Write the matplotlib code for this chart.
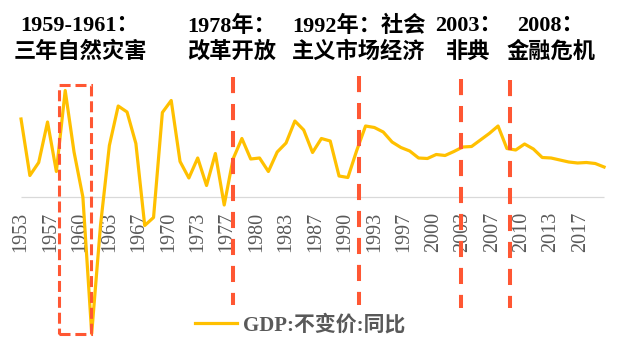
import numpy as np
import matplotlib
matplotlib.use("Agg")
import matplotlib.pyplot as plt
from matplotlib.patches import Rectangle

# 数据：GDP 不变价同比（%）
years = list(range(1953, 2020))
gdp = [15.6, 4.3, 6.9, 15.0, 5.1, 21.3, 9.0, 0.0, -27.3, -5.6,
       10.3, 18.2, 17.0, 10.7, -5.7, -4.1, 16.9, 19.3, 7.1, 3.8,
       7.8, 2.3, 8.7, -1.6, 7.6, 11.7, 7.6, 7.8, 5.1, 9.0,
       10.8, 15.2, 13.4, 8.9, 11.7, 11.2, 4.2, 3.9, 9.3, 14.2,
       13.9, 13.0, 11.0, 9.9, 9.2, 7.8, 7.7, 8.5, 8.3, 9.1,
       10.0, 10.1, 11.4, 12.7, 14.2, 9.7, 9.4, 10.6, 9.6, 7.9,
       7.8, 7.4, 7.0, 6.8, 6.9, 6.7, 6.0]
tick_labels = ["1953", "1957", "1960", "1963", "1967", "1970", "1973", "1977",
               "1980", "1983", "1987", "1990", "1993", "1997", "2000", "2003",
               "2007", "2010", "2013", "2017"]

# 事件标注
event_x = [1977, 1991.3, 2002.8, 2008.3]
annotations = [
    (["1959-1961：", "三年自然灾害"], 80, "center"),
    (["1978年：", "改革开放"], 187, "left"),
    (["1992年：社会", "主义市场经济"], 292, "left"),
    (["2003：", "非典"], 468, "center"),
    (["2008：", "金融危机"], 551, "center"),
]

font = ["Liberation Serif", "Noto Sans CJK SC"]
gold = "#FFC000"
red = "#FF5733"

W, H = 622, 348
fig = plt.figure(figsize=(W / 100, H / 100), dpi=100)
ax = fig.add_axes([12.2 / W, 11 / H, 600.7 / W, 265 / H])
ax.set_xlim(1952, 2020)
ax.set_ylim(-28, 25)
ax.spines["bottom"].set_position(("data", 0))
for s in ax.spines.values():
    s.set_visible(False)

# 零轴
ax.hlines(0, years[0], years[-1], color="#D9D9D9", lw=0.9, zorder=1)

ax.plot(years, gdp, color=gold, lw=2.3, label="GDP:不变价:同比", zorder=3)

# 竖虚线
tops = [24, 24.2, 23.6, 23.4]
bottoms = [-21.6, -21.6, -22.2, -22.2]
for x, t, b in zip(event_x, tops, bottoms):
    ax.plot([x, x], [t, b], color=red, lw=2.9, linestyle=(0, (4, 2.7)),
            solid_capstyle="butt", dash_capstyle="butt", zorder=4)

# 1959-1961 方框
ax.add_patch(Rectangle((1957.3, -27.4), 3.6, 49.8, fill=False, edgecolor=red,
                       lw=2.2, linestyle=(0, (3.6, 1.6)), zorder=4))

# x 轴刻度
ax.set_xticks([1953 + k * 10 / 3 for k in range(len(tick_labels))])
ax.set_xticklabels(tick_labels, rotation=90, fontsize=14.5, family=font,
                   color="#595959")
ax.tick_params(axis="x", length=0, pad=10.5)
ax.set_yticks([])

# 文字标注
for lines, x, ha in annotations:
    for i, line in enumerate(lines):
        fig.text(x / W, 1 - (26 + 26 * i) / H, line, ha=ha, va="center",
                 fontsize=16, fontweight="bold", family=font, color="black")

leg = ax.legend(loc="center left", bbox_to_anchor=(195 / W, 1 - 325 / H),
                bbox_transform=fig.transFigure, frameon=False,
                borderpad=0, borderaxespad=0, handlelength=2.0,
                handletextpad=0.3,
                prop={"family": font, "size": 15, "weight": "bold"})
for t in leg.get_texts():
    t.set_color("#595959")

fig.savefig("out.png", dpi=100)
